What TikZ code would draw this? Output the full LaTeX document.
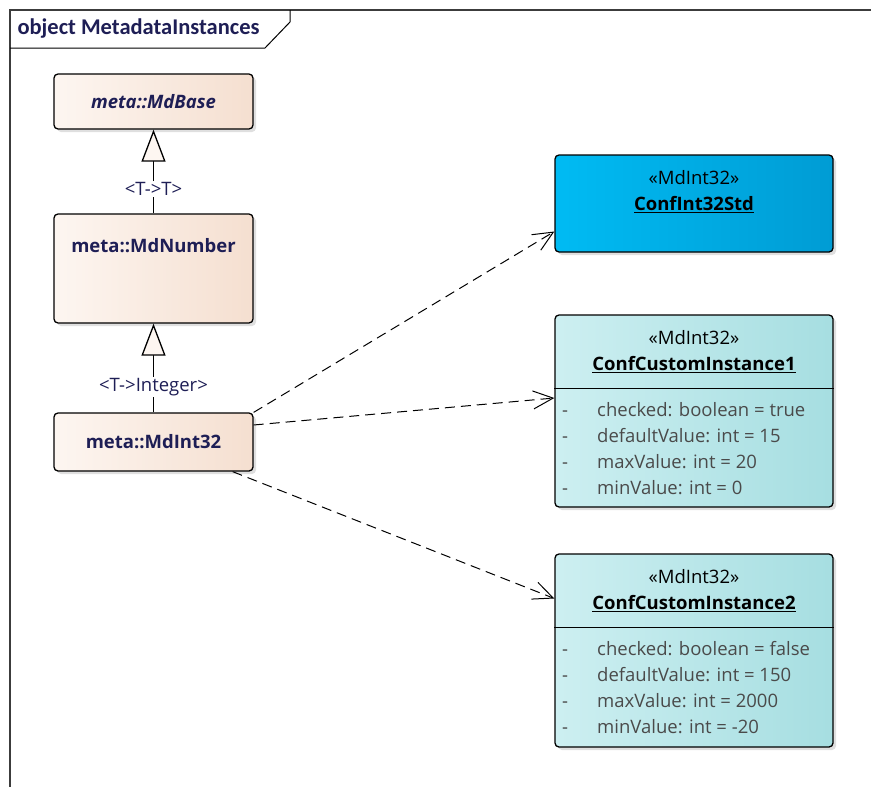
\documentclass[tikz,border=0pt]{standalone}
\usepackage{fontspec}
\setmainfont{Open Sans}
\newfontfamily\titlefont{Carlito}
\usetikzlibrary{arrows.meta,positioning,shadows,calc}

\definecolor{peachL}{HTML}{FDF6F1}
\definecolor{peachR}{HTML}{F5DFD0}
\definecolor{blueL}{HTML}{00BBF3}
\definecolor{blueR}{HTML}{009CD4}
\definecolor{tealL}{HTML}{CDEFF1}
\definecolor{tealR}{HTML}{A6DEE1}
\definecolor{navy}{HTML}{1E1E55}
\definecolor{attrgray}{HTML}{4A4A4A}
\definecolor{framegray}{HTML}{3C3C3C}

\newcommand{\diagfont}{\fontsize{18.5}{26}\selectfont}

\tikzset{
  shade box/.style={draw=black, line width=1.3pt, rounded corners=4pt,
    drop shadow={opacity=0.25, shadow xshift=3pt, shadow yshift=-3pt}},
  classbox/.style={shade box, left color=peachL, right color=peachR,
    minimum width=199pt, font=\diagfont\bfseries, text=navy},
  instbox/.style={shade box, minimum width=278pt},
  bindlbl/.style={font=\diagfont, text=navy, inner sep=1pt},
  attrs/.style={font=\diagfont, text=attrgray, align=left, anchor=west, inner sep=0pt},
  gen/.style={line width=1.3pt, -{Triangle[length=32pt, width=24pt, fill=peachL, line width=1.3pt]}},
  dep/.style={line width=1pt, dash pattern=on 10pt off 6pt,
    -{Straight Barb[length=20pt, width=18pt, line width=1pt]}}
}

\begin{document}
\begin{tikzpicture}[x=1pt, y=-1pt]
  \useasboundingbox (0,0) rectangle (871,787);

  % frame
  \draw[framegray, line width=2pt] (10,787) -- (10,10) -- (871,10);
  \node[font=\titlefont\fontsize{22.5}{24}\selectfont\bfseries, text=navy, anchor=west] (title) at (14,29) {object MetadataInstances};
  \draw[black, line width=1pt] (290,10) -- (290,22) -- (265,48) -- (10,48);

  % class hierarchy
  \node[classbox, minimum height=55pt, font=\diagfont\bfseries\itshape] (base) at (153.5,101.5) {meta::MdBase};
  \node[classbox, minimum height=109pt, inner ysep=0pt, text height=38pt, text depth=71pt] (number) at (153.5,268.5) {meta::MdNumber};
  \node[classbox, minimum height=58pt] (int32) at (153.5,442) {meta::MdInt32};

  \node[bindlbl] (bind1) at (153.5,189) {<T->T>};
  \node[bindlbl] (bind2) at (153.5,387) {<T->Integer>};
  \draw[line width=1.3pt] (number.north) -- (bind1.south);
  \draw[gen] (bind1.north) -- (base.south);
  \draw[line width=1.3pt] (int32.north) -- (bind2.south);
  \draw[gen] (bind2.north) -- (number.south);

  % instances
  \node[instbox, minimum height=97pt, left color=blueL, right color=blueR] (std) at (694,203.5) {};
  \node[font=\diagfont, align=center, text=black] (stdname) at (694,192) {«MdInt32»\\\textbf{\underline{ConfInt32Std}}};

  \node[instbox, minimum height=192pt, left color=tealL, right color=tealR] (inst1) at (694,411) {};
  \node[font=\diagfont, align=center, text=black] (inst1name) at (694,352) {«MdInt32»\\\textbf{\underline{ConfCustomInstance1}}};
  \draw[line width=1.3pt] ([yshift=-74pt]inst1.north west) -- ([yshift=-74pt]inst1.north east);
  \node[attrs] (inst1attr) at (562,449) {%
    \makebox[35pt][l]{-}checked: boolean = true\\
    \makebox[35pt][l]{-}defaultValue: int = 15\\
    \makebox[35pt][l]{-}maxValue: int = 20\\
    \makebox[35pt][l]{-}minValue: int = 0};

  \node[instbox, minimum height=193pt, left color=tealL, right color=tealR] (inst2) at (694,650.5) {};
  \node[font=\diagfont, align=center, text=black] (inst2name) at (694,591) {«MdInt32»\\\textbf{\underline{ConfCustomInstance2}}};
  \draw[line width=1.3pt] ([yshift=-74pt]inst2.north west) -- ([yshift=-74pt]inst2.north east);
  \node[attrs] (inst2attr) at (562,688) {%
    \makebox[35pt][l]{-}checked: boolean = false\\
    \makebox[35pt][l]{-}defaultValue: int = 150\\
    \makebox[35pt][l]{-}maxValue: int = 2000\\
    \makebox[35pt][l]{-}minValue: int = -20};

  % dependencies
  \draw[dep] (int32.north east) -- ([yshift=-28pt]std.west);
  \draw[dep] ([yshift=17pt]int32.east) -- ([yshift=13pt]inst1.west);
  \draw[dep] ([xshift=-21pt]int32.south east) -- ([yshift=52pt]inst2.west);
\end{tikzpicture}
\end{document}
